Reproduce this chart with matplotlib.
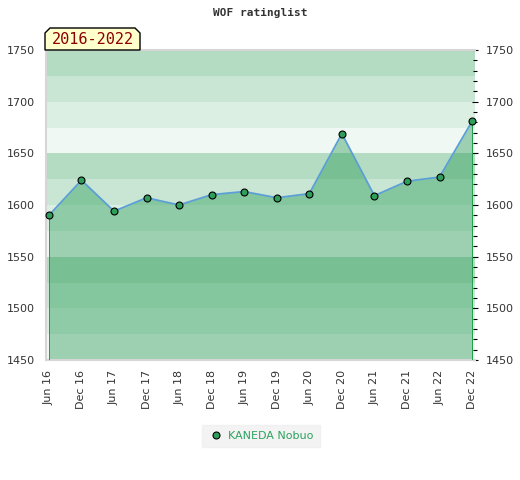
import matplotlib.pyplot as plt
from matplotlib.patches import Polygon

# WOF rating history
periods = ["Jun 16", "Dec 16", "Jun 17", "Dec 17", "Jun 18", "Dec 18", "Jun 19",
           "Dec 19", "Jun 20", "Dec 20", "Jun 21", "Dec 21", "Jun 22", "Dec 22"]
ratings = [1590, 1624, 1594, 1607, 1600, 1610, 1613,
           1607, 1611, 1669, 1609, 1623, 1627, 1681]
player = "KANEDA Nobuo"
period_label = "2016-2022"

band_colors = {25: "#b3dcc2", 0: "#c8e6d3", 75: "#dcefe3", 50: "#f0f8f3"}

fig = plt.figure(figsize=(5.2, 4.8), dpi=100)
ax = fig.add_axes([46 / 520, 120 / 480, 429 / 520, 310 / 480])

ymin, ymax = 1450, 1750
for y0 in range(ymin, ymax, 25):
    ax.axhspan(y0, y0 + 25, color=band_colors[y0 % 100], lw=0, zorder=0)

x = list(range(len(periods)))
ax.fill_between(x, ratings, ymin, color="#20964d", alpha=0.4, lw=0, zorder=1)
ax.vlines([x[0], x[-1]], ymin, [ratings[0], ratings[-1]], color="#22a050", lw=0.7,
          zorder=5, antialiased=False)
ax.plot(x, ratings, color="#5b9fd6", lw=1.3, zorder=6)
ax.plot(x, ratings, ls="none", marker="o", ms=5, mfc="#2e9e5b", mec="black", mew=0.8,
        zorder=7, label=player, clip_on=False)

ax.set_xlim(-0.09, len(periods) - 1 + 0.09)
ax.set_ylim(ymin, ymax)
ax.set_xticks(x)
ax.set_xticklabels(periods, rotation=90, fontsize=8, color="#333333")
ax.tick_params(axis="x", length=0, pad=7)
ax.set_yticks(range(ymin, ymax + 1, 50))
ax.tick_params(axis="y", labelsize=8, labelcolor="#333333", length=0, pad=8,
               labelright=True, right=False)
ax.set_yticks(range(ymin, ymax + 1, 10), minor=True)
ax.tick_params(axis="y", which="minor", left=False, right=False)

# right-side tick marks
sec = ax.secondary_yaxis("right")
sec.set_yticks(range(ymin, ymax + 1, 50))
sec.set_yticklabels([])
sec.set_yticks(range(ymin, ymax + 1, 10), minor=True)
sec.tick_params(which="major", length=4, direction="inout", width=0.8)
sec.tick_params(which="minor", length=3, direction="inout", width=0.8)
sec.spines["right"].set_visible(False)

for s in ["left", "bottom", "top"]:
    ax.spines[s].set_color("#d6d6d6")
    ax.spines[s].set_linewidth(1.5)
ax.spines["right"].set_visible(False)

fig.text(0.5, 1 - 13 / 480, "WOF ratinglist", ha="center", va="center",
         fontsize=8, family="DejaVu Sans Mono", fontweight="bold", color="#333333")

# period label tab
x0, x1 = 45 / 520, 140 / 520
y0, y1 = 1 - 50 / 480, 1 - 28 / 480
c = 5 / 520
cy = 5 / 480
tab = Polygon([(x0, y0), (x0, y1 - cy), (x0 + c, y1), (x1 - c, y1), (x1, y1 - cy), (x1, y0)],
              closed=True, transform=fig.transFigure, facecolor="#ffffcc",
              edgecolor="black", lw=1, zorder=5)
fig.add_artist(tab)
fig.text((x0 + x1) / 2, (y0 + y1) / 2 - 1 / 480, period_label, ha="center", va="center",
         fontsize=11, family="DejaVu Sans Mono", color="#8b0000", zorder=6)

leg = fig.legend(loc="center", bbox_to_anchor=(261 / 520, 1 - 436 / 480), frameon=True,
                 fontsize=8, handletextpad=0.5, borderpad=0.55, handlelength=1.3)
leg.get_frame().set_facecolor("#f0f0f0")
leg.get_frame().set_edgecolor("#f0f0f0")
leg.get_frame().set_boxstyle("square", pad=0.0)
for t in leg.get_texts():
    t.set_color("#2ca25f")

fig.savefig("out.png", dpi=100)
